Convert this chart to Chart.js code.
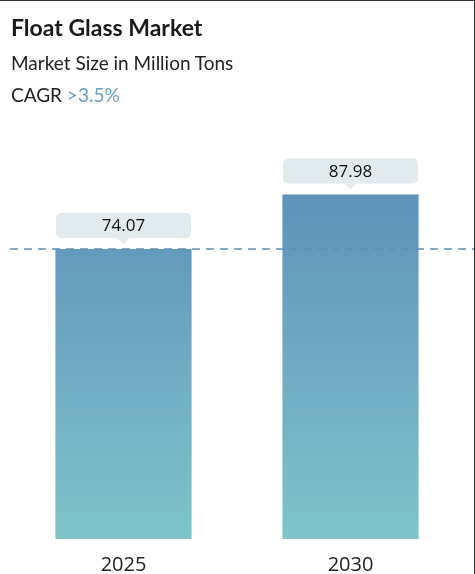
<!DOCTYPE html>
<html>
<head>
<meta charset="utf-8">
<script src="https://cdn.jsdelivr.net/npm/chart.js@4"></script>
<style>
  body { margin: 0; background: #fff; font-family: Lato, "Open Sans", sans-serif; }
  #wrap { position: relative; width: 475px; height: 574px; box-sizing: border-box; border-top: 1px solid #333; border-right: 1px solid #333; overflow: hidden; }
  #chart { position: absolute; left: 0; top: 0; }
  .t1 { position: absolute; left: 11px; top: 12px; font-size: 23px; font-weight: bold; color: #1a1a1a; }
  .t2 { position: absolute; left: 11px; top: 50px; font-size: 19px; color: #222; }
  .t3 { position: absolute; left: 11px; top: 82px; font-size: 19px; color: #222; }
  .t3 span { color: #6a9ec4; }
</style>
</head>
<body>
<div id="wrap">
  <canvas id="chart" width="475" height="574"></canvas>
  <div class="t1">Float Glass Market</div>
  <div class="t2">Market Size in Million Tons</div>
  <div class="t3">CAGR <span>&gt;3.5%</span></div>
</div>
<script>
const years = ["2025", "2030"];
const marketSize = [74.07, 87.98];

const ctx = document.getElementById("chart").getContext("2d");

const overlay = {
    id: "overlay",
    afterDatasetsDraw(chart) {
        const c = chart.ctx;
        const y = chart.scales.y.getPixelForValue(marketSize[0]);
        c.save();
        c.strokeStyle = "#5f8fb8";
        c.lineWidth = 1.3;
        c.setLineDash([8, 6]);
        c.beginPath();
        c.moveTo(10, y);
        c.lineTo(475, y);
        c.stroke();
        c.setLineDash([]);
        chart.getDatasetMeta(0).data.forEach((bar, i) => {
            const w = 135, h = 25;
            const x0 = bar.x - w / 2, y0 = bar.y - 36;
            c.fillStyle = "#e1eaed";
            c.beginPath();
            c.roundRect(x0, y0, w, h, 5);
            c.fill();
            c.beginPath();
            c.moveTo(bar.x - 6, y0 + h);
            c.lineTo(bar.x + 6, y0 + h);
            c.lineTo(bar.x, y0 + h + 6);
            c.fill();
            c.fillStyle = "#111";
            c.font = "17px 'Open Sans', sans-serif";
            c.textAlign = "center";
            c.textBaseline = "middle";
            c.fillText(marketSize[i].toFixed(2), bar.x, y0 + h / 2 + 1);
        });
        c.restore();
    }
};

new Chart(ctx, {
    type: "bar",
    data: {
        labels: years,
        datasets: [{
            data: marketSize,
            backgroundColor(context) {
                const area = context.chart.chartArea;
                if (!area) return "#6a9ec0";
                const g = context.chart.ctx.createLinearGradient(0, area.top, 0, area.bottom);
                g.addColorStop(0, "#5a8cb8");
                g.addColorStop(1, "#7fc4c9");
                return g;
            },
            barPercentage: 0.6,
            categoryPercentage: 1
        }]
    },
    options: {
        responsive: false,
        animation: false,
        layout: { padding: { top: 146.5, left: 10, right: 11, bottom: 0 } },
        plugins: { legend: { display: false }, tooltip: { enabled: false } },
        scales: {
            y: { display: false, min: 0, max: 100 },
            x: {
                grid: { display: false },
                border: { display: false },
                ticks: { color: "#222", font: { size: 20, family: "'Open Sans', sans-serif" }, padding: 6 },
                afterFit(axis) { axis.height = 36; }
            }
        }
    },
    plugins: [overlay]
});
</script>
</body>
</html>
